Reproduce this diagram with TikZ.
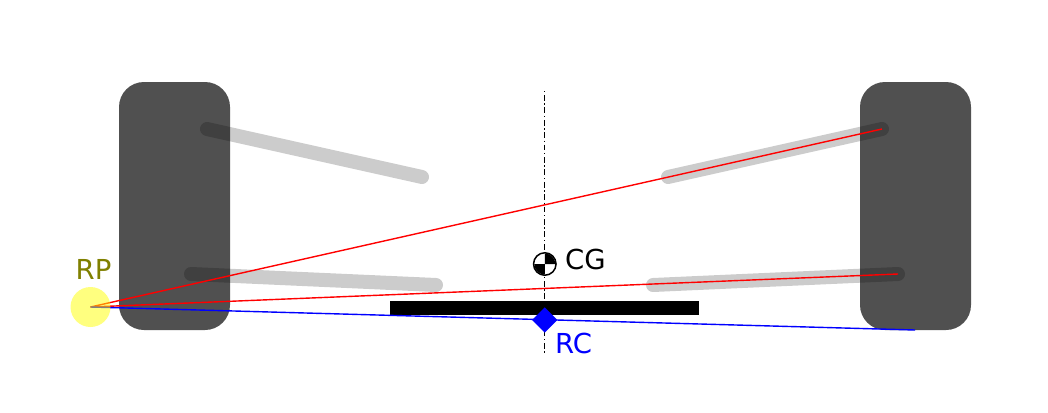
\documentclass[tikz,border=0pt]{standalone}
\usepackage{fontspec}
\setmainfont{DejaVu Sans}
\usetikzlibrary{shapes.geometric}
\definecolor{tirecol}{HTML}{505050}
\definecolor{rplabel}{HTML}{808000}
\definecolor{rpfill}{HTML}{FFFF00}
\definecolor{rayr}{HTML}{FF0000}
\definecolor{rayb}{HTML}{0000FF}
\tikzset{
  x=1pt,y=-1pt,
  tire/.style={fill=tirecol,draw=none,rounded corners=25pt},
  arm/.style={draw=black,draw opacity=0.2,line width=14pt,line cap=round},
  rayred/.style={draw=rayr,line width=1.4pt},
  rayblue/.style={draw=rayb,line width=1.4pt},
  lbl/.style={font=\fontsize{27.5}{27.5}\selectfont,inner sep=0pt},
}
\begin{document}
\begin{tikzpicture}
\useasboundingbox (0,0) rectangle (1048,412);
\fill[white] (0,0) rectangle (1048,412);
\coordinate (RP) at (90.5,307);
\coordinate (UL) at (207,129);
\coordinate (UC) at (422,177);
\coordinate (LL) at (191,274);
\coordinate (LC) at (436,285);
\coordinate (UR) at (882,129);
\coordinate (URC) at (668,177);
\coordinate (LR) at (898,274);
\coordinate (LRC) at (653,285);
\coordinate (BE) at (915,330);
\coordinate (AT) at (544.5,91);
\coordinate (AB) at (544.5,353);
\fill[tire] (119,82) rectangle (230,330);
\fill[tire] (860,82) rectangle (971,330);
\fill[black] (390,300.5) rectangle (699,314.5);
\draw[black,line width=1.4pt,dash pattern=on 1.4pt off 2.6pt on 5.8pt off 2.6pt] (AT) -- (AB);
\draw[arm] (UL) -- (UC);
\draw[arm] (LL) -- (LC);
\draw[arm] (UR) -- (URC);
\draw[arm] (LR) -- (LRC);
\draw[rayred] (RP) -- (UR);
\draw[rayred] (RP) -- (LR);
\draw[rayblue] (RP) -- (BE);
\node[diamond,fill=rayb,draw=none,minimum width=25.5pt,minimum height=25.5pt,inner sep=0pt] (RC) at (544.7,320) {};
\fill[rpfill,fill opacity=0.5] (RP) circle (20pt);
\node[circle,fill=white,draw=black,line width=1.5pt,minimum size=22.5pt,inner sep=0pt] (CG) at (544.8,264) {};
\fill[black] (CG.center) -- ++(0,-10.5) arc (90:0:10.5pt) -- cycle;
\fill[black] (CG.center) -- ++(0,10.5) arc (270:180:10.5pt) -- cycle;
\node[lbl,text=rplabel,anchor=base] (rplab) at (93.5,279) {RP};
\node[lbl,anchor=base west] (cglab) at (565,269.3) {CG};
\node[lbl,text=rayb,anchor=base west] (rclab) at (555,353) {RC};
\end{tikzpicture}
\end{document}
